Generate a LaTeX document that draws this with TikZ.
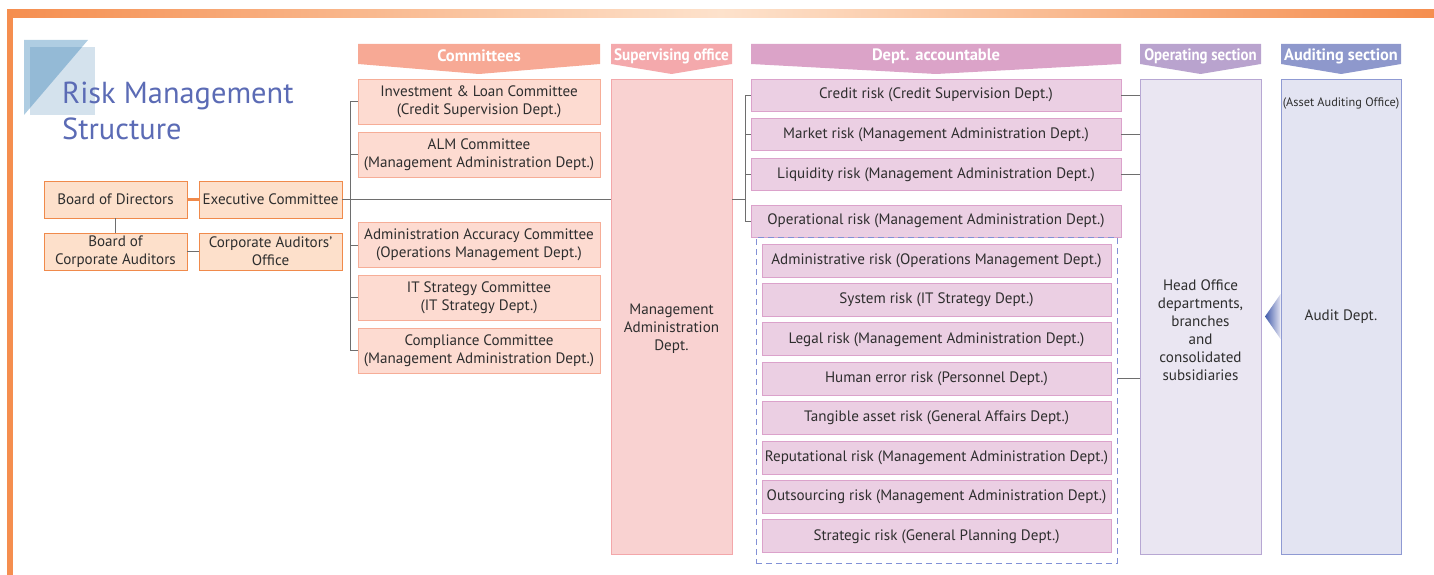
\documentclass[tikz,border=0pt]{standalone}
\usepackage{fontspec}
\setmainfont{PT Sans}
\usepackage{xcolor}
\usetikzlibrary{positioning, calc, shapes}

\definecolor{frameor}{HTML}{F58E4F}
\definecolor{framelt}{HTML}{FDE2CC}
\definecolor{titleblue}{HTML}{5B6BB5}
\definecolor{decosq}{HTML}{D4E2ED}
\definecolor{decotri}{RGB}{39,120,177}
\definecolor{orgfill}{HTML}{FDE0CB}
\definecolor{orgline}{HTML}{F08A4B}
\definecolor{cmtfill}{HTML}{FDDBD1}
\definecolor{cmtline}{HTML}{F6AD97}
\definecolor{supfill}{HTML}{F9D2D1}
\definecolor{supline}{HTML}{F3A7AA}
\definecolor{riskfill}{HTML}{EBCFE3}
\definecolor{riskline}{HTML}{DBA2CB}
\definecolor{opfill}{HTML}{EAE6F2}
\definecolor{opline}{HTML}{B7A7D3}
\definecolor{audfill}{HTML}{E3E4F2}
\definecolor{audline}{HTML}{8F9AD3}
\definecolor{dashblue}{HTML}{8291D6}
\definecolor{hdcmt}{HTML}{F7A995}
\definecolor{hdsup}{HTML}{F4A9AC}
\definecolor{hddept}{HTML}{DBA3C8}
\definecolor{hdop}{HTML}{B9A3CE}
\definecolor{hdaud}{HTML}{8E98CC}
\definecolor{arrowtip}{RGB}{64,90,170}
\definecolor{linkgray}{HTML}{6E6E6E}
\definecolor{txt}{HTML}{2E2E2E}

\newcommand{\boxfont}{\fontsize{15.1}{18}\selectfont}

\tikzset{
  base/.style={draw, line width=0.9pt, inner sep=0pt, align=center, text=txt, font=\boxfont},
  orgbox/.style={base, fill=orgfill, draw=orgline, minimum width=143pt, minimum height=37pt},
  cmtbox/.style={base, fill=cmtfill, draw=cmtline, minimum width=242pt, minimum height=45pt},
  riskbox/.style={base, fill=riskfill, draw=riskline, minimum width=370pt, minimum height=32pt},
  subbox/.style={base, fill=riskfill, draw=riskline, minimum width=349pt, minimum height=33pt},
  colbox/.style={base, minimum width=121pt, minimum height=475pt},
  hdtext/.style={text=white, font=\fontsize{16.5}{18}\selectfont\bfseries, inner sep=0pt},
  link/.style={draw=linkgray, line width=0.9pt}
}

\begin{document}
\begin{tikzpicture}[x=1pt, y=-1pt]
    \useasboundingbox (0,0) rectangle (1434,575);

    % Frame
    \shade[left color=frameor, right color=frameor, middle color=framelt] (7,10) rectangle (1434,18);
    \fill[frameor] (7,10) rectangle (13,575);

    % Title
    \fill[decosq] (30,47) rectangle (95,115);
    \fill[decotri, opacity=0.37] (24,40) -- (88,40) -- (24,115) -- cycle;
    \node[anchor=north west, align=left, text=titleblue, inner sep=0pt,
          font=\fontsize{30.4}{36}\selectfont] (title) at (62,82) {Risk Management\\Structure};

    % Column headers
    \foreach \xa/\xb/\c/\s/\t in {358/600/hdcmt/1/Committees, 611/732/hdsup/0.92/Supervising office,
        751/1121/hddept/1/Dept. accountable, 1140/1261/hdop/0.9/Operating section,
        1281/1401/hdaud/0.99/Auditing section} {
        \fill[\c] (\xa,44) -- (\xb,44) -- (\xb,64) -- ({(\xa+\xb)/2},74) -- (\xa,64) -- cycle;
        \node[hdtext] (\c) at ({(\xa+\xb)/2},56) {\scalebox{\s}[1]{\t}};
    }

    % Board and executive
    \node[orgbox] (bod) at (115.5,199.5) {Board of Directors};
    \node[orgbox] (exec) at (270.5,199.5) {Executive Committee};
    \node[orgbox] (bca) at (115.5,251.5) {Board of\\Corporate Auditors};
    \node[orgbox] (cao) at (270.5,251.5) {Corporate Auditors'\\Office};
    \draw[draw=orgline, line width=2.5pt] (bod.east) -- (exec.west);
    \draw[link] (bod.south) -- (bca.north);
    \draw[link] (bca.east) -- (cao.west);

    % Committees
    \node[cmtbox] (cmt1) at (479,101.5) {Investment \& Loan Committee\\(Credit Supervision Dept.)};
    \node[cmtbox] (cmt2) at (479,154.5) {ALM Committee\\(Management Administration Dept.)};
    \node[cmtbox] (cmt3) at (479,245) {Administration Accuracy Committee\\(Operations Management Dept.)};
    \node[cmtbox] (cmt4) at (479,297.5) {IT Strategy Committee\\(IT Strategy Dept.)};
    \node[cmtbox] (cmt5) at (479,350.5) {Compliance Committee\\(Management Administration Dept.)};
    \draw[link] (cmt1.west) -- ++(-7,0) |- (cmt5.west);
    \foreach \n in {2,3,4} \draw[link] (cmt\n.west) -- ++(-7,0);

    % Supervising office
    \node[colbox, fill=supfill, draw=supline] (sup) at (671.5,316.5) {};
    \node[base, draw=none] (suptxt) at (671.5,329) {Management\\Administration\\Dept.};
    \draw[link] (exec.east) -- (exec.east -| sup.west);

    % Dept. accountable
    \node[riskbox] (credit) at (936,95) {Credit risk (Credit Supervision Dept.)};
    \node[riskbox] (market) at (936,134.5) {Market risk (Management Administration Dept.)};
    \node[riskbox] (liquid) at (936,174.5) {Liquidity risk (Management Administration Dept.)};
    \node[riskbox] (oper) at (936,221) {Operational risk (Management Administration Dept.)};
    \node[draw=dashblue, dash pattern=on 6pt off 4pt, line width=1pt, minimum width=361pt,
          minimum height=326pt, inner sep=0pt] (subgrp) at (936.5,400) {};
    \foreach \i/\t in {0/Administrative risk (Operations Management Dept.),
        1/System risk (IT Strategy Dept.),
        2/Legal risk (Management Administration Dept.),
        3/Human error risk (Personnel Dept.),
        4/Tangible asset risk (General Affairs Dept.),
        5/Reputational risk (Management Administration Dept.),
        6/Outsourcing risk (Management Administration Dept.),
        7/Strategic risk (General Planning Dept.)} {
        \node[subbox] (sub\i) at (936.5,{260.5+39.4*\i}) {\t};
    }
    \coordinate (rtrunk) at (745,199.5);
    \draw[link] (sup.east |- rtrunk) -- (rtrunk);
    \draw[link] (credit.west) -| (rtrunk) |- (oper.west);
    \draw[link] (market.west) -- (market.west -| rtrunk);
    \draw[link] (liquid.west) -- (liquid.west -| rtrunk);

    % Operating section
    \node[colbox, fill=opfill, draw=opline] (opsec) at (1200.5,316.5) {};
    \node[base, draw=none] (optxt) at (1200.5,330) {Head Office\\departments,\\branches\\and\\consolidated\\subsidiaries};
    \foreach \r in {credit, market, liquid} \draw[link] (\r.east) -- (\r.east -| opsec.west);
    \draw[link] (subgrp.east |- sub3.east) -- (sub3.east -| opsec.west);

    % Auditing section
    \node[colbox, fill=audfill, draw=audline, minimum width=120pt] (audit) at (1341,316.5) {};
    \node[base, draw=none, font=\fontsize{12.3}{14}\selectfont] (asset) at (1341,103) {(Asset Auditing Office)};
    \node[base, draw=none] (audtxt) at (1341,316.5) {Audit Dept.};
    \shade[left color=arrowtip, right color=audfill] (audit.west |- 0,294) -- (1265,316.5) -- (audit.west |- 0,339) -- cycle;
\end{tikzpicture}
\end{document}
